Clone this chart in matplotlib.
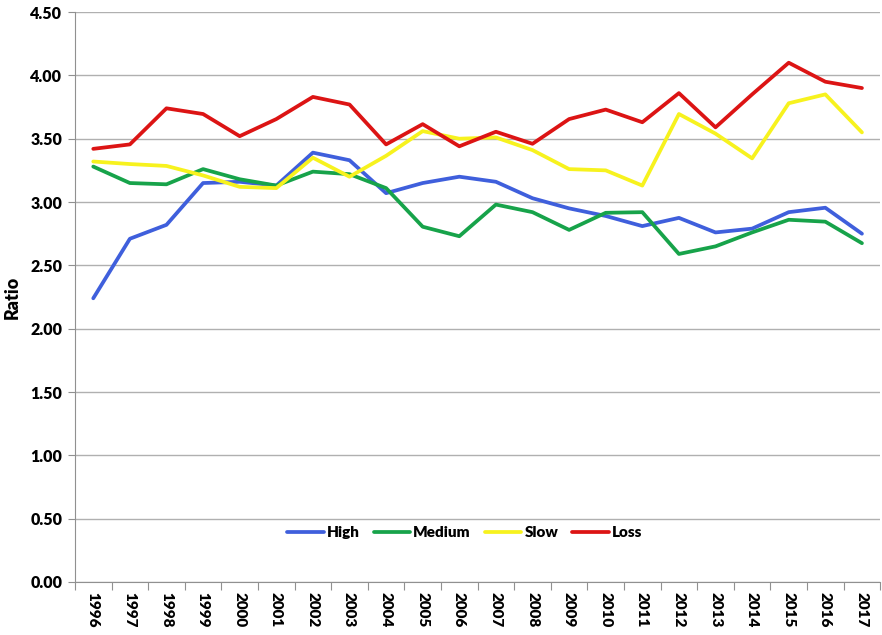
import numpy as np
import matplotlib.pyplot as plt

plt.rcParams['font.family'] = ['Lato', 'DejaVu Sans']

# Data
years = [str(y) for y in range(1996, 2018)]
high = [2.24, 2.71, 2.82, 3.15, 3.16, 3.13, 3.39, 3.33, 3.07, 3.15, 3.20,
        3.16, 3.03, 2.95, 2.89, 2.81, 2.875, 2.76, 2.79, 2.92, 2.955, 2.75]
medium = [3.28, 3.15, 3.14, 3.26, 3.18, 3.13, 3.24, 3.22, 3.11, 2.805, 2.73,
          2.98, 2.92, 2.78, 2.915, 2.92, 2.59, 2.65, 2.76, 2.86, 2.845, 2.675]
slow = [3.32, 3.30, 3.285, 3.21, 3.12, 3.11, 3.35, 3.20, 3.365, 3.56, 3.50,
        3.51, 3.41, 3.26, 3.25, 3.13, 3.695, 3.54, 3.345, 3.78, 3.85, 3.55]
loss = [3.42, 3.455, 3.74, 3.695, 3.52, 3.655, 3.83, 3.77, 3.455, 3.615, 3.44,
        3.555, 3.46, 3.655, 3.73, 3.63, 3.86, 3.59, 3.85, 4.10, 3.95, 3.90]

series = [("High", high, "#3f5fdc"), ("Medium", medium, "#17a34a"),
          ("Slow", slow, "#f7f21e"), ("Loss", loss, "#dc1414")]

fig = plt.figure(figsize=(8.82, 6.35), dpi=100)
ax = fig.add_axes([0.085, 0.0835, 0.913, 0.8975])

x = np.arange(len(years))
for name, vals, col in series:
    ax.plot(x, vals, color=col, lw=2.7, label=name, solid_capstyle='round')

ax.set_xlim(-0.5, len(years) - 0.5)
ax.set_ylim(0, 4.5)
ax.set_yticks(np.arange(0, 4.51, 0.5))
ax.set_yticklabels([f"{v:.2f}" for v in np.arange(0, 4.51, 0.5)],
                   fontsize=11.5, fontweight='heavy')
ax.yaxis.grid(True, color='#b0b0b0', lw=1)
ax.set_axisbelow(True)

# category boundaries as ticks, labels at centers
ax.set_xticks(np.arange(-0.5, len(years), 1))
ax.set_xticklabels([])
ax.set_xticks(x, minor=True)
ax.set_xticklabels(years, minor=True, rotation=270, fontsize=11,
                   fontweight='heavy')
ax.tick_params(axis='x', which='minor', length=0, pad=7)
ax.tick_params(axis='x', which='major', length=6, color='#909090')
ax.tick_params(axis='y', length=5, color='#909090', pad=4)

for s in ['top', 'right']:
    ax.spines[s].set_visible(False)
for s in ['left', 'bottom']:
    ax.spines[s].set_color('#909090')

ax.set_ylabel("Ratio", fontsize=13, fontweight='heavy', labelpad=7)

ax.legend(loc='center', bbox_to_anchor=(0.484, 0.086), ncol=4,
          frameon=False, handlelength=2.4, handletextpad=0.2,
          columnspacing=0.9, prop={'weight': 'heavy', 'size': 11})

fig.savefig("out.png", dpi=100)
